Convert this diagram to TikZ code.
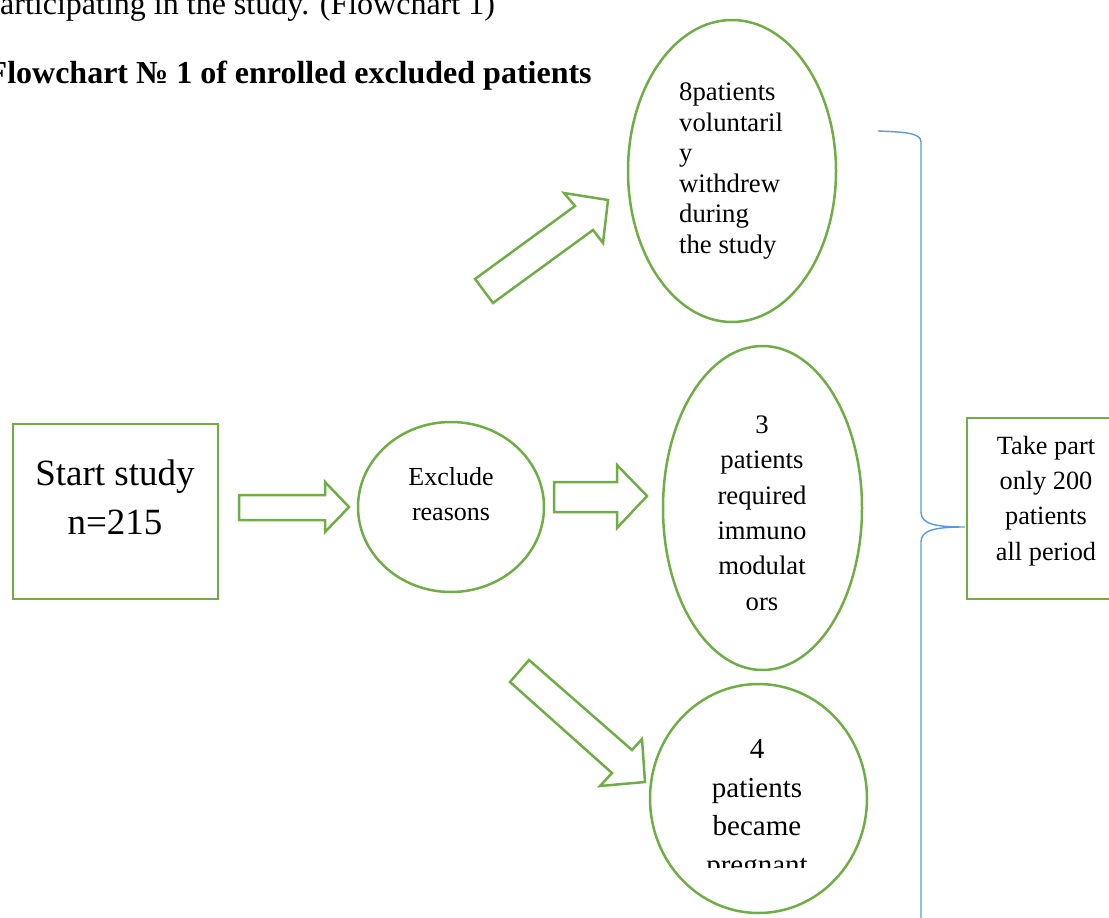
\documentclass[tikz,border=0pt]{standalone}
\usepackage{fontspec}
\setmainfont{Liberation Serif}
\usetikzlibrary{shapes.geometric}
\definecolor{ogreen}{HTML}{70AD47}
\definecolor{oblue}{HTML}{5B9BD5}
\begin{document}
\begin{tikzpicture}[x=1pt,y=-1pt,
  shapeline/.style={draw=ogreen,line width=2.5pt},
  boxnode/.style={shapeline,rectangle,inner sep=0pt},
  ellnode/.style={shapeline,ellipse,inner sep=0pt},
  blockarrow/.style={shapeline,line join=miter},
  txt/.style={inner sep=0pt,align=center,text=black},
  brace/.style={draw=oblue,line width=1.4pt}]
\useasboundingbox (0,0) rectangle (1109,918);
\clip (0,0) rectangle (1109,918);

% heading text
\node[inner sep=0pt,anchor=base west,font=\fontsize{32}{38}\selectfont] (intro) at (0,15) {articipating in the study. (Flowchart 1)};
\node[inner sep=0pt,anchor=base west,font=\fontsize{32}{38}\selectfont\bfseries] (title) at (-12.5,83) {Flowchart № 1 of enrolled excluded patients};

% shapes
\node[boxnode,minimum width=205pt,minimum height=175pt] (start) at (115.5,511.5) {};
\node[ellnode,minimum width=186pt,minimum height=170pt] (excl) at (451,507) {};
\node[ellnode,minimum width=208pt,minimum height=302pt] (withdrew) at (732,171) {};
\node[ellnode,minimum width=199pt,minimum height=324pt] (immuno) at (762.5,508) {};
\node[ellnode,minimum width=217pt,minimum height=229pt] (pregnant) at (758.5,798.5) {};
\node[boxnode,minimum width=158pt,minimum height=181pt] (takepart) at (1046,508.5) {};

% texts
\node[txt,font=\fontsize{37}{49}\selectfont] (starttxt) at (115,497) {Start study\\n=215};
\node[txt,font=\fontsize{26}{35}\selectfont] (excltxt) at (451,494) {Exclude\\reasons};
\node[txt,align=left,anchor=west,font=\fontsize{26.7}{30.6}\selectfont] (withdrewtxt) at (679,171) {8patients\\voluntaril\\y\\withdrew\\during\\the study};
\node[txt,font=\fontsize{26.7}{35.4}\selectfont] (immunotxt) at (762,513) {3\\patients\\required\\immuno\\modulat\\ors};
\begin{scope}
\clip (600,700) rectangle (900,867);
\node[txt,font=\fontsize{29}{38.5}\selectfont] (pregnanttxt) at (757,810) {4\\patients\\became\\pregnant};
\end{scope}
\node[txt,font=\fontsize{26.3}{35.3}\selectfont] (takeparttxt) at (1046,501) {Take part\\only 200\\patients\\all period};

% block arrows
\draw[blockarrow] (239,495) -- (325,495) -- (325,482) -- (349,507) -- (325,532) -- (325,520) -- (239,520) -- cycle;
\draw[blockarrow] (554,482) -- (617,482) -- (617,465) -- (647,496) -- (617,528) -- (617,512) -- (554,512) -- cycle;
\draw[blockarrow] (475,279) -- (575,206) -- (564,193) -- (608,200) -- (603,243) -- (593,230) -- (493,303) -- cycle;
\draw[blockarrow] (510,682) -- (612,773) -- (600,786) -- (645,782) -- (642,739) -- (632,750) -- (529,660) -- cycle;

% brace
\coordinate (bracetip) at (965,527);
\draw[brace] (878,131) .. controls (905,132) and (921,133) .. (921,142) -- (921,512)
  .. controls (921,524) and (935,527) .. (bracetip)
  .. controls (935,527) and (921,530) .. (921,542) -- (921,925);
\end{tikzpicture}
\end{document}
